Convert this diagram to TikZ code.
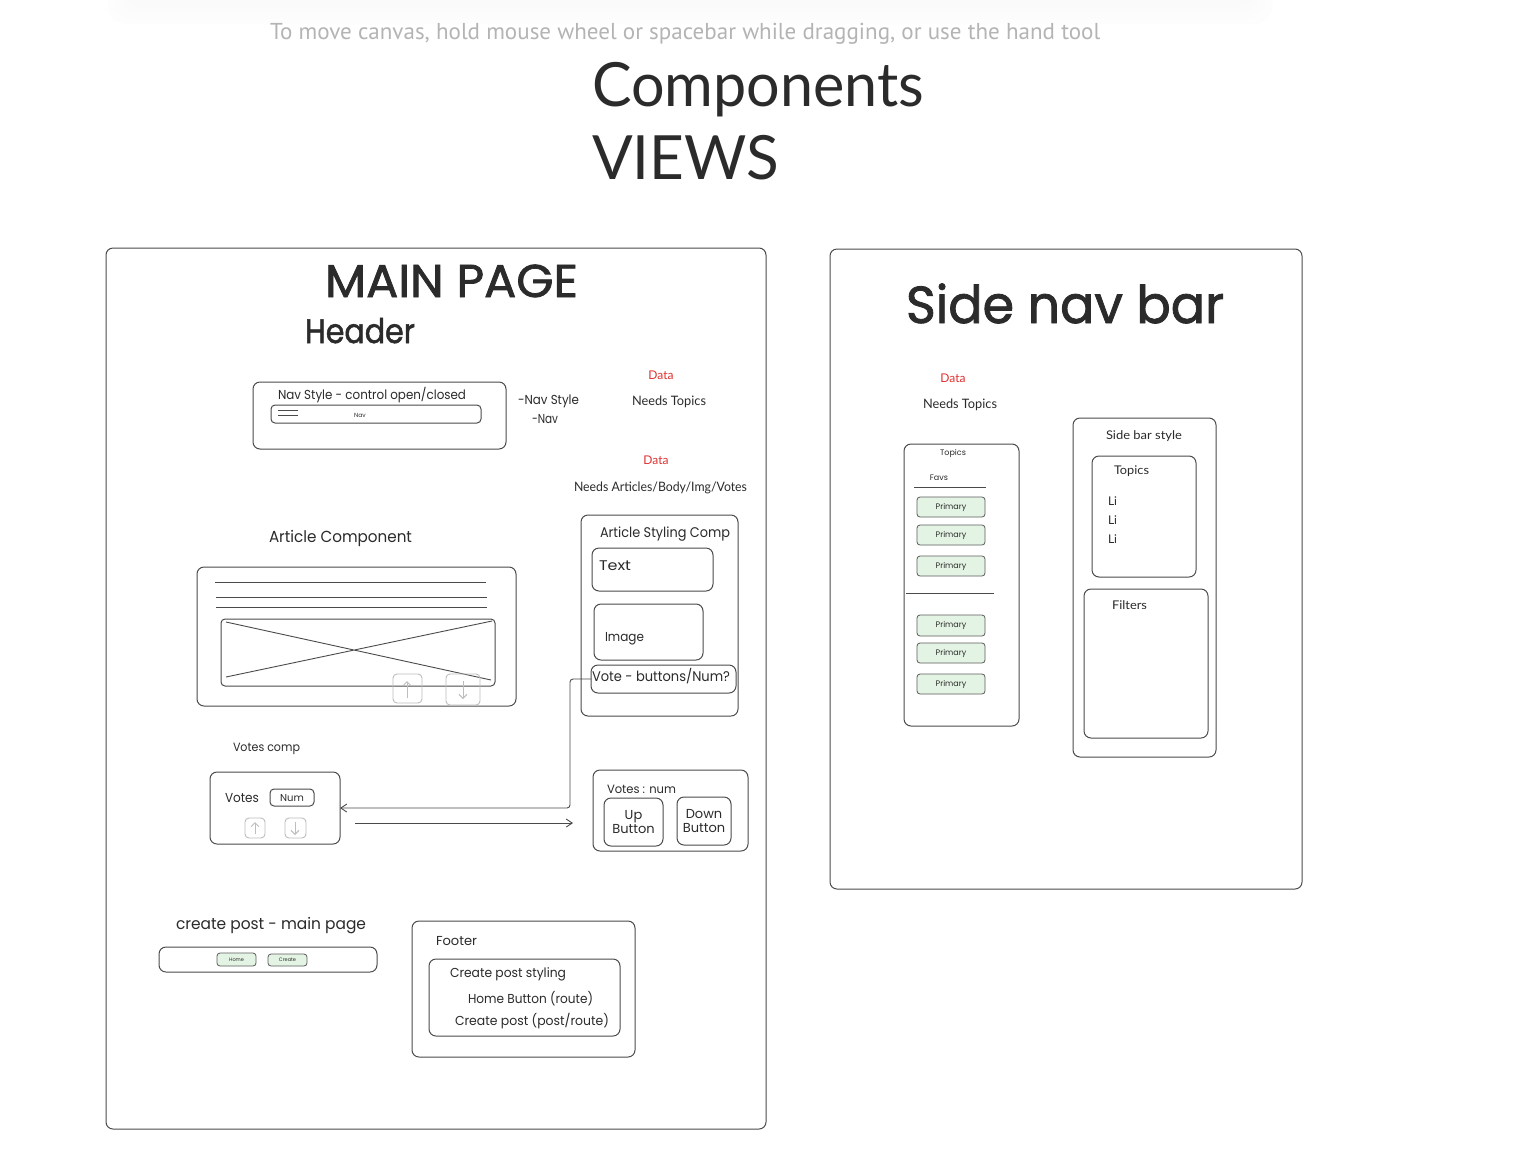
\documentclass[tikz,border=0pt]{standalone}
\usepackage{fontspec}
\usepackage{graphicx}
\usetikzlibrary{arrows.meta}
\setmainfont{Lato}
\newfontfamily\handfont{Poppins}
\newfontfamily\handheavy{Poppins}[FakeBold=1.6]
\newfontfamily\hintfont{PT Sans}
\definecolor{ink}{HTML}{2B2B2B}
\definecolor{edge}{HTML}{4A4A4A}
\definecolor{datared}{HTML}{E03131}
\definecolor{hintgray}{HTML}{B4B4B4}
\definecolor{ghostc}{HTML}{BDBDBD}
\definecolor{primfill}{HTML}{E4F4E4}
% font size in px-sized points
\newcommand\fs[1]{\fontsize{#1}{#1}\selectfont}
% squeeze or stretch a text to a given width, keeping its height
\newcommand\W[2]{\resizebox{#1pt}{\height}{#2}}
% rectangle node from its corners: [style]{name}{x1}{y1}{x2}{y2}
\newcommand\bx[6][]{\node[box,#1,minimum width={(#5)-(#3)},minimum height={(#6)-(#4)}] (#2) at ({((#3)+(#5))/2},{((#4)+(#6))/2}) {};}
\tikzset{
  box/.style={draw=edge, line width=1pt, rounded corners=7pt, inner sep=0pt, outer sep=0pt},
  sbox/.style={rounded corners=4pt},
  prim/.style={draw=edge!90, fill=primfill, rounded corners=3pt, line width=0.8pt},
  ghost/.style={draw=ghostc, line width=0.9pt, rounded corners=4pt},
  hand/.style={font=\handfont, text=ink, inner sep=0pt, outer sep=0pt, anchor=base west},
  plain/.style={text=ink, inner sep=0pt, outer sep=0pt, anchor=base west},
  red/.style={text=datared, inner sep=0pt, outer sep=0pt, anchor=base},
  conn/.style={draw=edge, line width=0.9pt},
  barb/.style={-{Straight Barb[length=6pt,width=8pt]}},
  ghostarrow/.style={draw=ghostc, line width=0.9pt, -{Straight Barb[length=4pt,width=8pt]}},
}
\begin{document}
\begin{tikzpicture}[x=1pt,y=-1pt]
\useasboundingbox (0,0) rectangle (1528,1152);
\fill[white] (0,0) rectangle (1528,1152);

% toolbar shadow at the top edge
\foreach \o/\c in {22/0.8,16/1.1,10/1.5,5/2}
  \fill[black!\c, rounded corners=18pt] (130-\o,-30) rectangle (1250+\o,2+\o);

% hint and headings
\node[font=\hintfont, text=hintgray, inner sep=0, anchor=base west] (hint) at (270,39)
  {\fs{23}\W{830}{To move canvas, hold mouse wheel or spacebar while dragging, or use the hand tool}};
\node[plain] (comp) at (592,106) {\fs{61}\W{332}{Components}};
\node[plain] (views) at (592,179) {\fs{61}\W{187}{VIEWS}};

% ================= MAIN PAGE =================
\bx{mainpg}{106}{248}{766}{1129}
\node[hand, font=\handheavy] (maint) at (325,297) {\fs{46}\W{253}{MAIN PAGE}};
\node[hand, font=\handheavy] (hdr) at (305,343) {\fs{34}\W{110}{Header}};

% header / nav
\bx{navout}{253}{382}{506}{449}
\node[hand] (navt) at (278,399) {\fs{13}\W{188}{Nav Style - control open/closed}};
\bx[sbox]{navbar}{271}{405}{481}{423}
\draw[edge, line width=0.8pt] (278,410) -- (298,410) (278,415) -- (298,415);
\node[hand, anchor=center] (navlbl) at (360,415) {\fs{6}Nav};
\node[hand] (nav1) at (518,404) {\fs{13}\W{61}{-Nav Style}};
\node[hand] (nav2) at (532,423) {\fs{13}\W{26}{-Nav}};

\node[red] (d1) at (661,379) {\fs{12}Data};
\node[plain, anchor=base] (nt1) at (669,405) {\fs{13}\W{74}{Needs Topics}};
\node[red] (d2) at (656,464) {\fs{12}Data};
\node[plain] (na) at (574,491) {\fs{13}\W{173}{Needs Articles/Body/Img/Votes}};

% article component
\node[hand] (artt) at (269,542) {\fs{16}\W{143}{Article Component}};
\bx{art}{197}{567}{516}{706}
\draw[edge, line width=0.9pt] (215,582) -- (486,582) (216,597) -- (487,597) (216,607) -- (487,607);
\bx[sbox]{artimg}{221}{619}{495}{686}
\draw[edge, line width=0.9pt] (226,622) -- (491,680) (226,677) -- (492,621);
\bx[ghost, sbox]{artup}{393}{674}{422}{703}
\bx[ghost, sbox]{artdn}{446}{674}{480}{705}
\draw[ghostarrow] (407,698) -- (407,681);
\draw[ghostarrow] (463,681) -- (463,699);

% article styling
\bx{asty}{581}{515}{738}{716}
\node[hand] (astyt) at (600,537) {\fs{14}\W{130}{Article Styling Comp}};
\bx{atext}{592}{548}{713}{591}
\node[hand] (atextt) at (599,570) {\fs{14}\W{32}{Text}};
\bx{aimg}{594}{604}{703}{660}
\node[hand] (aimgt) at (605,641) {\fs{13}\W{39}{Image}};
\bx{avote}{591}{665}{736}{693}
\node[hand] (avotet) at (592,681) {\fs{14}\W{138}{Vote - buttons/Num?}};

% votes component
\node[hand] (vct) at (233,751) {\fs{12}\W{67}{Votes comp}};
\bx{votes}{210}{772}{340}{844}
\node[hand] (votest) at (225,802) {\fs{13}\W{34}{Votes}};
\bx[sbox]{vnumbox}{270}{789}{314}{806}
\node[hand, anchor=center] (vnum) at (292,798) {\fs{10}Num};
\bx[ghost, sbox]{vup}{245}{818}{265}{838}
\bx[ghost, sbox]{vdn}{285}{818}{306}{838}
\draw[ghostarrow] (255,834) -- (255,822);
\draw[ghostarrow] (295,822) -- (295,835);

\bx{vn}{593}{770}{748}{851}
\node[hand] (vnt) at (607,793) {\fs{12}\W{69}{Votes : num}};
\bx{upb}{604}{798}{663}{846}
\node[hand, font=\handfont\fs{13}, anchor=center, align=center] (upbt) at (633.5,822) {Up\\[1pt]Button};
\bx{dnb}{677}{797}{731}{845}
\node[hand, font=\handfont\fs{13}, anchor=center, align=center] (dnbt) at (704,821) {Down\\[1pt]Button};

% connectors
\draw[conn, barb, rounded corners=3pt] (avote.west) -- (570,679) -- (570,808) -- (votes.east);
\coordinate (a1) at (355,823);
\coordinate (a2) at (573,823);
\draw[conn, barb] (a1) -- (a2);

% create post
\node[hand] (cpt) at (176,929) {\fs{16}\W{190}{create post - main page}};
\bx{cp}{159}{947}{377}{972}
\bx[prim]{homeb}{217}{953}{256}{966}
\node[hand, anchor=center] (homet) at (236.5,959.5) {\fs{5}Home};
\bx[prim]{createb}{268}{954}{307}{966}
\node[hand, anchor=center] (createt) at (287.5,960) {\fs{5}Create};

% footer
\bx{foot}{412}{921}{635}{1057}
\node[hand] (foott) at (436,945) {\fs{13}\W{41}{Footer}};
\bx{footin}{429}{959}{620}{1036}
\node[hand] (fs1) at (450,977) {\fs{13}\W{116}{Create post styling}};
\node[hand] (fs2) at (468,1003) {\fs{13}\W{125}{Home Button (route)}};
\node[hand] (fs3) at (455,1025) {\fs{13}\W{154}{Create post (post/route)}};

% ================= SIDE NAV BAR =================
\bx{side}{830}{249}{1302}{889}
\node[hand, font=\handheavy] (sidet) at (906,323) {\fs{52}\W{318}{Side nav bar}};
\node[red] (d3) at (953,382) {\fs{12}Data};
\node[plain] (nt2) at (923,408) {\fs{13}\W{74}{Needs Topics}};

\bx{topcol}{904}{444}{1019}{726}
\node[hand, anchor=center] (topt) at (953,453) {\fs{8}Topics};
\node[hand, anchor=center] (favt) at (939,478) {\fs{8}Favs};
\draw[edge, line width=0.9pt] (914,487) -- (986,487);
\draw[edge, line width=0.9pt] (906,593) -- (994,593);
\foreach \n/\ya/\yb in {p1/497/517, p2/525/545, p3/556/576, p4/615/636, p5/643/663, p6/674/694} {
  \bx[prim]{\n}{917}{\ya}{985}{\yb}
  \node[hand, anchor=center] at (\n.center) {\fs{8}Primary};
}

\bx{sbs}{1073}{418}{1216}{757}
\node[plain] (sbst) at (1106,439) {\fs{12}\W{76}{Side bar style}};
\bx{sbtop}{1092}{456}{1196}{577}
\node[plain] (sbtopt) at (1114,474) {\fs{12}\W{35}{Topics}};
\node[plain] (li1) at (1108,505) {\fs{12}Li};
\node[plain] (li2) at (1108,524) {\fs{12}Li};
\node[plain] (li3) at (1108,543) {\fs{12}Li};
\bx{sbfil}{1084}{589}{1208}{738}
\node[plain] (filt) at (1112,609) {\fs{12}\W{35}{Filters}};
\end{tikzpicture}
\end{document}
